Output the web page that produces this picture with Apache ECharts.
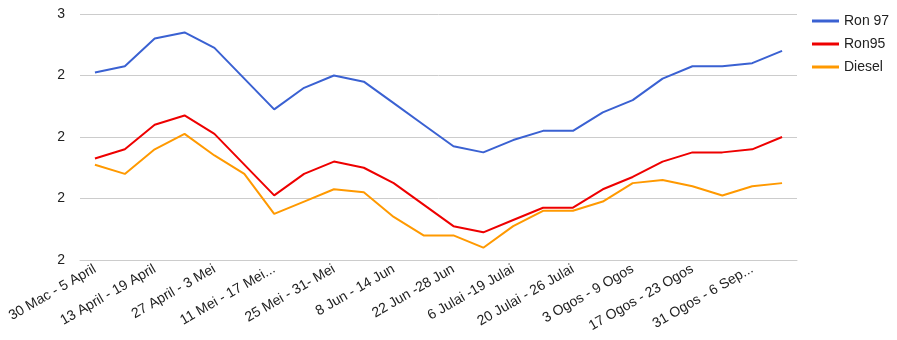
<!DOCTYPE html>
<html>
<head>
<meta charset="utf-8">
<script src="https://cdn.jsdelivr.net/npm/echarts@6/dist/echarts.min.js"></script>
<style>
html,body{margin:0;padding:0;background:#fff;}
#chart{width:897px;height:340px;}
</style>
</head>
<body>
<div id="chart"></div>
<script>
const categories = [
  "30 Mac - 5 April", "6 April - 12 April", "13 April - 19 April", "20 April - 26 April",
  "27 April - 3 Mei", "4 Mei - 10 Mei", "11 Mei - 17 Mei...", "18 Mei - 24 Mei",
  "25 Mei - 31- Mei", "1 Jun - 7 Jun", "8 Jun - 14 Jun", "15 Jun - 21 Jun",
  "22 Jun -28 Jun", "29 Jun - 5 Julai", "6 Julai -19 Julai", "13 Julai - 19 Julai",
  "20 Julai - 26 Julai", "27 Julai - 2 Ogos", "3 Ogos - 9 Ogos", "10 Ogos - 16 Ogos",
  "17 Ogos - 23 Ogos", "24 Ogos - 30 Ogos", "31 Ogos - 6 Sep...", "7 Sep - 13 Sep"
];
const ron97 = [2.41, 2.43, 2.52, 2.54, 2.49, 2.39, 2.29, 2.36, 2.40, 2.38, 2.31, 2.24,
               2.17, 2.15, 2.19, 2.22, 2.22, 2.28, 2.32, 2.39, 2.43, 2.43, 2.44, 2.48];
const ron95 = [2.13, 2.16, 2.24, 2.27, 2.21, 2.11, 2.01, 2.08, 2.12, 2.10, 2.05, 1.98,
               1.91, 1.89, 1.93, 1.97, 1.97, 2.03, 2.07, 2.12, 2.15, 2.15, 2.16, 2.20];
const diesel = [2.11, 2.08, 2.16, 2.21, 2.14, 2.08, 1.95, 1.99, 2.03, 2.02, 1.94, 1.88,
                1.88, 1.84, 1.91, 1.96, 1.96, 1.99, 2.05, 2.06, 2.04, 2.01, 2.04, 2.05];
const seriesNames = ["Ron 97", "Ron95", "Diesel"];
const yMin = 1.8, yMax = 2.6, yStep = 0.2;

const font = "'Liberation Sans', Arial, sans-serif";
const chart = echarts.init(document.getElementById('chart'));
function line(name, data, color) {
  return {
    name: name, type: 'line', data: data, showSymbol: false, symbol: 'none',
    lineStyle: { color: color, width: 2 }, itemStyle: { color: color },
    animation: false
  };
}
chart.setOption({
  animation: false,
  textStyle: { fontFamily: font },
  grid: { left: 80, right: 100, top: 14, bottom: 80 },
  legend: {
    orient: 'vertical', left: 812, top: 13, padding: 0,
    icon: 'rect', itemWidth: 27, itemHeight: 3, itemGap: 7,
    textStyle: { fontFamily: font, fontSize: 14, color: '#222', lineHeight: 16, padding: [0, 0, 0, 0] },
    data: seriesNames
  },
  xAxis: {
    type: 'category', data: categories, boundaryGap: true,
    axisLine: { show: true, lineStyle: { color: '#cccccc', width: 1 } },
    axisTick: { show: false },
    axisLabel: { interval: 1, rotate: 30, margin: 8, fontSize: 14, color: '#222', fontFamily: font }
  },
  yAxis: {
    type: 'value', min: yMin, max: yMax, interval: yStep,
    axisLine: { show: false }, axisTick: { show: false },
    splitLine: { lineStyle: { color: '#cccccc', width: 1 } },
    axisLabel: { margin: 15, fontSize: 14, color: '#222', fontFamily: font,
      formatter: v => Number(v).toFixed(0) }
  },
  series: [
    line(seriesNames[0], ron97, '#3a61d2'),
    line(seriesNames[1], ron95, '#ee0000'),
    line(seriesNames[2], diesel, '#ff9900')
  ]
});
</script>
</body>
</html>
